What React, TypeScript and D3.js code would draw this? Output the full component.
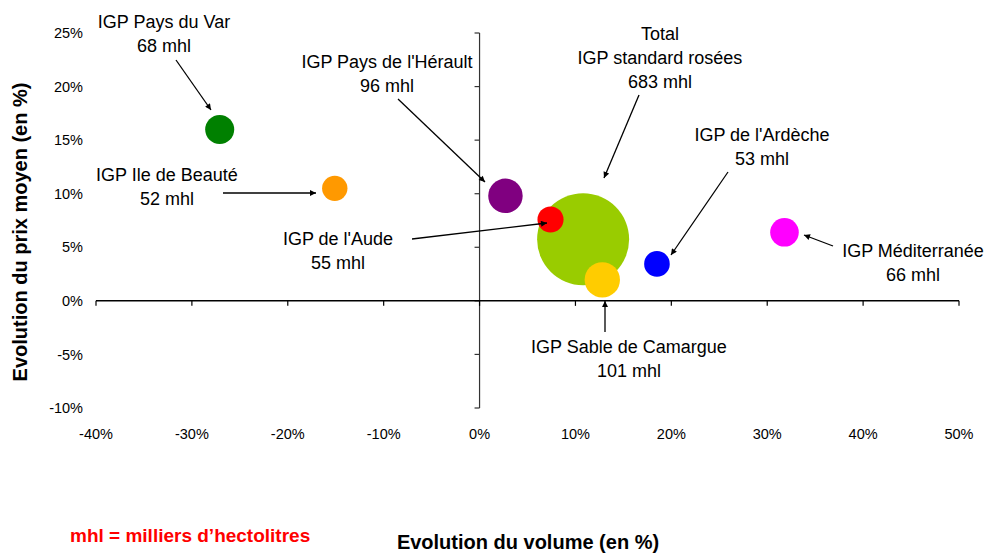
import React from "react";
import * as d3 from "d3";

// ---- Data ----
const names = [
  "Total IGP standard rosées",
  "IGP Pays du Var",
  "IGP Ile de Beauté",
  "IGP Pays de l'Hérault",
  "IGP de l'Aude",
  "IGP Sable de Camargue",
  "IGP de l'Ardèche",
  "IGP Méditerranée",
];
const volumeChange = [0.108, -0.271, -0.151, 0.027, 0.074, 0.128, 0.185, 0.318];
const priceChange = [0.0575, 0.16, 0.105, 0.098, 0.076, 0.0196, 0.0345, 0.064];
const volumesMhl = [683, 68, 52, 96, 55, 101, 53, 66];
const xTicks = [-0.4, -0.3, -0.2, -0.1, 0, 0.1, 0.2, 0.3, 0.4, 0.5];
const yTicks = [-0.1, -0.05, 0, 0.05, 0.1, 0.15, 0.2, 0.25];

// ---- Styles / layout ----
const colors = ["#99CC00", "#008000", "#FF9900", "#800080", "#FF0000", "#FFCC00", "#0000FF", "#FF00FF"];
const labelLines: string[][] = [
  ["Total", "IGP standard rosées", "683 mhl"],
  ["IGP Pays du Var", "68 mhl"],
  ["IGP Ile de Beauté", "52 mhl"],
  ["IGP Pays de l'Hérault", "96 mhl"],
  ["IGP de l'Aude", "55 mhl"],
  ["IGP Sable de Camargue", "101 mhl"],
  ["IGP de l'Ardèche", "53 mhl"],
  ["IGP Méditerranée", "66 mhl"],
];
// label center x, first baseline y, arrow start, arrow end (pixels)
const labelLayout = [
  { cx: 660, by: 40, a: [639, 95], b: [604, 178] },
  { cx: 164, by: 28, a: [176, 60], b: [211, 110] },
  { cx: 167, by: 181, a: [223, 193], b: [316, 193] },
  { cx: 387, by: 68, a: [398, 99], b: [485, 182] },
  { cx: 338, by: 245, a: [412, 239], b: [547, 223] },
  { cx: 629, by: 353, a: [605, 332], b: [605, 301] },
  { cx: 762, by: 141, a: [728, 172], b: [671, 255] },
  { cx: 913, by: 257, a: [833, 246], b: [804, 235] },
];

const FONT = "'Liberation Sans', Arial, sans-serif";

export default function App() {
  const W = 988;
  const H = 553;
  const x = d3.scaleLinear().domain([-0.4, 0.5]).range([96, 959]);
  const y = d3.scaleLinear().domain([-0.1, 0.25]).range([408, 33]);
  const r = d3.scaleSqrt().domain([0, 683]).range([0, 46]);
  const pct = (v: number) => `${Math.round(v * 100)}%`;

  return (
    <svg
      width={W}
      height={H}
      style={{ position: "absolute", left: 0, top: 0, background: "#fff" }}
      fontFamily={FONT}
    >
      <defs>
        <marker id="arr" viewBox="0 0 10 10" refX="10" refY="5" markerWidth="7" markerHeight="6" orient="auto" markerUnits="userSpaceOnUse">
          <path d="M0,0 L10,5 L0,10 z" fill="#000" />
        </marker>
      </defs>

      {/* y axis */}
      <line x1={x(0)} x2={x(0)} y1={y(0.25)} y2={y(-0.1)} stroke="#333" strokeWidth={1.2} />
      {yTicks.map((t) => (
        <g key={"yt" + t}>
          <line x1={x(0) - 5} x2={x(0)} y1={y(t)} y2={y(t)} stroke="#333" strokeWidth={1.2} />
          <text x={83} y={y(t)} dy="0.35em" textAnchor="end" fontSize={14.5} fill="#000">
            {pct(t)}
          </text>
        </g>
      ))}

      {/* x axis */}
      <line x1={x(-0.4)} x2={x(0.5)} y1={y(0)} y2={y(0)} stroke="#000" strokeWidth={1.5} />
      {xTicks.map((t) => (
        <g key={"xt" + t}>
          <line x1={x(t)} x2={x(t)} y1={y(0)} y2={y(0) + 5} stroke="#000" strokeWidth={1.2} />
          <text x={x(t)} y={439} textAnchor="middle" fontSize={14.5} fill="#000">
            {pct(t)}
          </text>
        </g>
      ))}

      {/* bubbles */}
      {names.map((n, i) => (
        <circle key={n} cx={x(volumeChange[i])} cy={y(priceChange[i])} r={r(volumesMhl[i])} fill={colors[i]} />
      ))}

      {/* labels and arrows */}
      {names.map((n, i) => {
        const L = labelLayout[i];
        return (
          <g key={"lab" + n}>
            {labelLines[i].map((s, j) => (
              <text key={j} x={L.cx} y={L.by + j * 24} textAnchor="middle" fontSize={18} fill="#000">
                {s}
              </text>
            ))}
            <line x1={L.a[0]} y1={L.a[1]} x2={L.b[0]} y2={L.b[1]} stroke="#000" strokeWidth={1.3} markerEnd="url(#arr)" />
          </g>
        );
      })}

      {/* axis titles */}
      <text
        transform={`translate(27,232) rotate(-90)`}
        textAnchor="middle"
        fontSize={20}
        fontWeight="bold"
        fill="#000"
      >
        Evolution du prix moyen (en %)
      </text>
      <text x={528} y={549} textAnchor="middle" fontSize={20} fontWeight="bold" fill="#000">
        Evolution du volume (en %)
      </text>
      <text x={70} y={542} fontSize={19} fontWeight="bold" fill="#FF0000">
        mhl = milliers d’hectolitres
      </text>
    </svg>
  );
}
